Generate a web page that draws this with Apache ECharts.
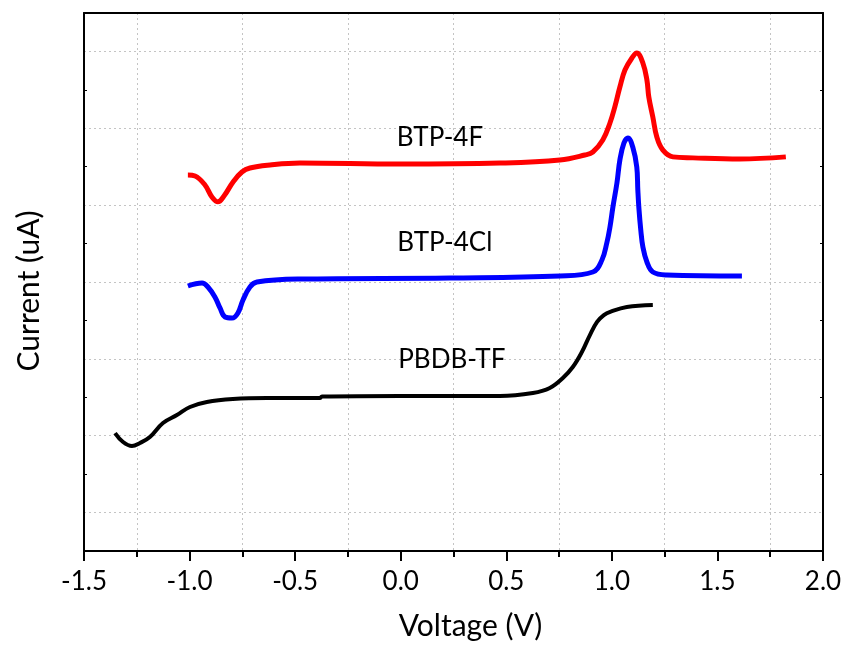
<!DOCTYPE html>
<html>
<head>
<meta charset="utf-8">
<script src="https://cdn.jsdelivr.net/npm/echarts@6/dist/echarts.min.js"></script>
<style>
  html, body { margin: 0; padding: 0; background: #fff; }
  #main { width: 851px; height: 653px; }
</style>
</head>
<body>
<div id="main"></div>
<script>
// voltage (V) / current (arbitrary offset units)
var btp4fV = [-1.008, -0.974, -0.927, -0.894, -0.866, -0.837, -0.794, -0.752, -0.714, -0.619, -0.477, -0.004, 0.470, 0.754, 0.872, 0.910, 0.957, 0.991, 1.014, 1.038, 1.062, 1.095, 1.118, 1.147, 1.166, 1.175, 1.194, 1.213, 1.241, 1.289, 1.384, 1.606, 1.824];
var btp4fI = [4.892, 4.879, 4.762, 4.606, 4.543, 4.619, 4.801, 4.931, 4.983, 5.022, 5.048, 5.035, 5.048, 5.087, 5.152, 5.191, 5.347, 5.569, 5.778, 6.037, 6.258, 6.414, 6.479, 6.349, 6.128, 5.907, 5.647, 5.386, 5.219, 5.128, 5.115, 5.100, 5.128];

var btp4clV = [-1.008, -0.941, -0.913, -0.880, -0.856, -0.832, -0.799, -0.771, -0.747, -0.714, -0.681, -0.477, 0.233, 0.754, 0.910, 0.953, 0.976, 0.991, 1.005, 1.024, 1.038, 1.057, 1.076, 1.099, 1.118, 1.123, 1.128, 1.137, 1.147, 1.166, 1.194, 1.260, 1.616];
var btp4clI = [3.448, 3.487, 3.435, 3.305, 3.162, 3.045, 3.031, 3.097, 3.266, 3.435, 3.500, 3.539, 3.552, 3.578, 3.630, 3.786, 4.007, 4.215, 4.476, 4.788, 5.087, 5.308, 5.373, 5.256, 4.996, 4.697, 4.463, 4.176, 3.955, 3.760, 3.630, 3.591, 3.578];

var pbdbV = [-1.353, -1.315, -1.273, -1.235, -1.188, -1.126, -1.060, -0.998, -0.918, -0.795, -0.633, -0.383, -0.373, -0.004, 0.470, 0.626, 0.706, 0.768, 0.815, 0.858, 0.896, 0.930, 0.962, 0.995, 1.071, 1.194];
var pbdbI = [1.535, 1.418, 1.366, 1.405, 1.483, 1.665, 1.769, 1.874, 1.939, 1.978, 1.991, 1.991, 2.010, 2.017, 2.017, 2.056, 2.121, 2.251, 2.394, 2.589, 2.810, 2.980, 3.070, 3.115, 3.175, 3.201];

var curveNames = ['BTP-4F', 'BTP-4Cl', 'PBDB-TF'];
var curveColors = ['#ff0000', '#0000ff', '#000000'];
// where each curve name is written (data coords)
var labelV = [0.186, 0.209, 0.242];
var labelI = [5.373, 4.007, 2.485];

var FONT = 'Lato';

function pairs(xs, ys) {
    var out = [];
    for (var i = 0; i < xs.length; i++) out.push([xs[i], ys[i]]);
    return out;
}

var chart = echarts.init(document.getElementById('main'));

var gridLine = { show: true, lineStyle: { color: '#c4c4c4', width: 1, type: [2, 3] } };
var blackLine = { show: true, onZero: false, lineStyle: { color: '#000', width: 2 } };

var series = [];
var allV = [btp4fV, btp4clV, pbdbV];
var allI = [btp4fI, btp4clI, pbdbI];
for (var k = 0; k < 3; k++) {
    series.push({
        name: curveNames[k],
        type: 'line',
        smooth: 0.4,
        showSymbol: false,
        lineStyle: { color: curveColors[k], width: k == 2 ? 4 : 5 },
        data: pairs(allV[k], allI[k])
    });
}

var option = {
    backgroundColor: '#fff',
    animation: false,
    grid: { left: 84, right: 28, top: 13, bottom: 102 },
    xAxis: [{
        type: 'value',
        min: -1.5,
        max: 2.0,
        interval: 0.5,
        name: 'Voltage (V)',
        nameLocation: 'middle',
        nameGap: 60,
        nameTextStyle: { fontFamily: FONT, fontSize: 30, color: '#000', padding: [0, 0, 0, 34] },
        axisLine: blackLine,
        axisTick: { show: true, inside: false, length: 10, lineStyle: { color: '#000', width: 2 } },
        minorTick: { show: true, splitNumber: 2, length: 6, lineStyle: { color: '#000', width: 2 } },
        minorSplitLine: gridLine,
        splitLine: { show: false },
        axisLabel: {
            margin: 18,
            fontFamily: FONT,
            fontSize: 26,
            color: '#000',
            formatter: function (v) { return v.toFixed(1); }
        }
    }, {
        type: 'value',
        position: 'top',
        min: -1.5,
        max: 2.0,
        interval: 0.5,
        axisLine: blackLine,
        axisTick: { show: false },
        axisLabel: { show: false },
        splitLine: { show: false }
    }],
    yAxis: [{
        type: 'value',
        position: 'left',
        min: 0,
        max: 7,
        interval: 1,
        name: 'Current (uA)',
        nameLocation: 'middle',
        nameGap: 40,
        nameTextStyle: { fontFamily: FONT, fontSize: 30, color: '#000', padding: [0, 18, 0, 0] },
        axisLine: blackLine,
        axisTick: { show: true, inside: true, length: 3, lineStyle: { color: '#000', width: 1 } },
        minorTick: { show: false, splitNumber: 2 },
        minorSplitLine: gridLine,
        splitLine: { show: false },
        axisLabel: { show: false }
    }, {
        type: 'value',
        position: 'right',
        min: 0,
        max: 7,
        interval: 1,
        axisLine: blackLine,
        axisTick: { show: true, inside: true, length: 3, lineStyle: { color: '#000', width: 1 } },
        axisLabel: { show: false },
        splitLine: { show: false }
    }],
    series: series
};

chart.setOption(option);

// curve names, placed through the grid's own scales
var texts = [];
for (var j = 0; j < curveNames.length; j++) {
    var p = chart.convertToPixel({ gridIndex: 0 }, [labelV[j], labelI[j]]);
    texts.push({
        type: 'text',
        x: p[0],
        y: p[1],
        style: {
            text: curveNames[j],
            fill: '#000',
            font: '26px ' + FONT,
            align: 'center',
            verticalAlign: 'middle'
        }
    });
}
chart.setOption({ graphic: texts });
</script>
</body>
</html>
